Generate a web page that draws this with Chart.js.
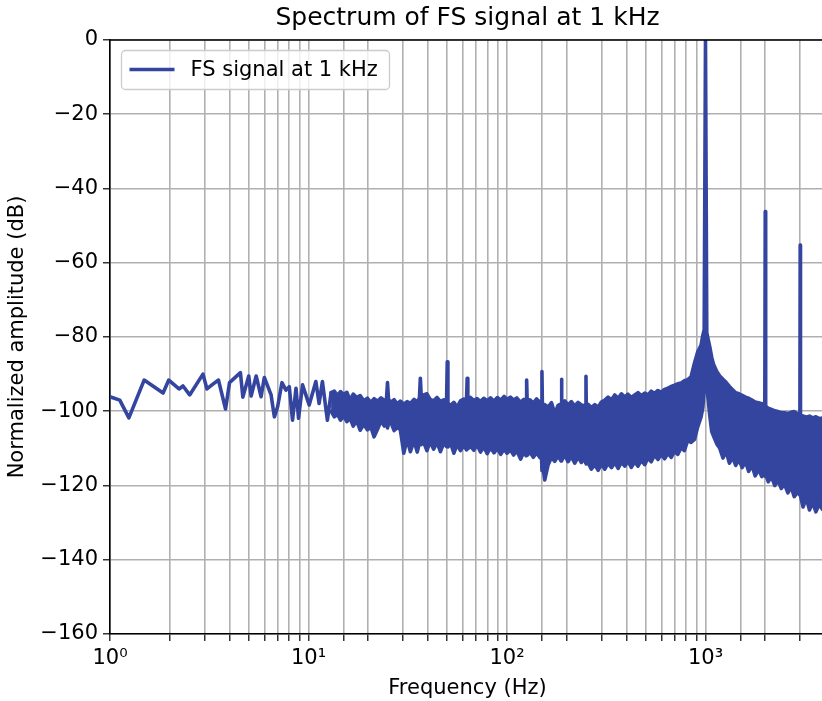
<!DOCTYPE html>
<html>
<head>
<meta charset="utf-8">
<script src="https://cdn.jsdelivr.net/npm/chart.js@4.4.0/dist/chart.umd.min.js"></script>
<style>
  html, body { margin: 0; padding: 0; background: #fff; overflow: hidden; }
  #wrap { width: 830px; height: 701px; }
</style>
</head>
<body>
<div id="wrap"><canvas id="spec" width="830" height="701"></canvas></div>
<script>
/* ── DATA ── */

// low-frequency part, a single visible trace
const lowFreq = [1.0, 1.12, 1.245, 1.486, 1.851, 1.977, 2.227, 2.332, 2.52, 2.94, 3.08, 3.30, 3.52, 3.82,
  4.0, 4.54, 4.67, 5.0, 5.14, 5.45, 5.77, 5.99, 6.48, 6.73, 6.99, 7.35, 7.70, 8.0, 8.31, 8.65, 8.91,
  9.33, 10.08, 10.89, 11.31, 11.75, 12.45, 13.0];
const lowDb = [-96.1, -97.0, -101.8, -91.6, -95.1, -91.6, -94.0, -93.2, -95.6, -90.0, -94.0, -92.7, -91.6, -99.4,
  -92.3, -89.6, -96.2, -90.5, -95.9, -90.5, -96.1, -90.9, -95.6, -101.5, -98.8, -92.3, -94.3, -93.4, -102.4, -93.8, -101.9,
  -92.9, -98.3, -92.0, -97.9, -92.0, -102.4, -95.0];

// dense noise band above 13 Hz: frequencies, upper edge, lower edge
const bandFreq = [13, 13.5, 14, 14.5, 15, 15.6, 16.2, 16.8, 17.5, 18.2, 19, 19.8, 20.6, 21.4, 22.3, 23.2, 24.1,
  24.7, 25, 25.3, 26, 27, 28, 29, 30.2, 31.4, 32.6, 34, 35.3, 36.2, 36.6, 37.0, 38, 39.5, 41, 42.7, 44.4, 46.2, 48,
  49.6, 50, 50.4, 52, 54, 56, 58.3, 60.6, 62.5, 63, 63.5, 65.5, 68, 70.7, 73.5, 76.4, 79.5, 82.6, 86, 89.4, 93, 96.7,
  100, 104, 108, 112, 117, 121.6, 124.8, 125.6, 126.4, 130.5, 135.7, 141, 146.7, 149.2, 150, 150.8, 155, 161, 167.6,
  174, 181, 187.4, 188.2, 189, 195.5, 203, 211, 219.5, 228, 237, 246.5, 249.2, 250, 250.8, 256, 266, 277, 288, 299,
  311, 323, 336, 349, 363, 377, 392, 407, 423, 440, 457, 475, 494, 513, 533, 554, 576, 599, 622, 647, 672, 698,
  725, 754, 783, 814, 846, 880, 914, 950, 970, 985, 1000, 1015, 1030, 1050, 1075, 1100, 1140, 1180, 1225, 1270,
  1320, 1370, 1420, 1475, 1530, 1590, 1650, 1715, 1780, 1850, 1920, 1990, 2000, 2010, 2070, 2150, 2235, 2320,
  2410, 2500, 2600, 2700, 2800, 2910, 2990, 3000, 3010, 3100, 3220, 3340, 3470, 3600, 3740, 3880, 4000];
const bandHiDb = [-95.0, -94.6, -95.8, -94.7, -95.5, -94.9, -97.0, -95.4, -96.3, -95.8, -97.2, -96.5, -97.6, -96.6, -97.3, -96.4, -97.1,
  -96.8, -92.3, -96.8, -97.6, -96.9, -98.0, -97.3, -98.1, -97.4, -97.9, -96.8, -97.5, -96.5, -91.1, -96.2, -95.6, -95.3, -96.8, -97.2, -96.3, -97.4, -96.9,
  -97.5, -86.7, -97.8, -98.4, -97.6, -98.9, -97.2, -96.7, -97.3, -91.1, -97.0, -96.3, -97.1, -96.6, -97.4, -96.5, -97.2, -96.4, -97.3, -96.3, -97.0, -96.0,
  -96.8, -96.2, -97.0, -96.4, -97.6, -96.8, -97.3, -91.6, -97.4, -96.9, -97.8, -96.7, -97.6, -97.8, -89.3, -98.5, -98.2, -98.9, -97.7,
  -100.6, -98.4, -98.0, -91.4, -97.9, -97.2, -98.3, -97.4, -98.6, -97.6, -98.3, -98.5, -98.4, -90.6, -98.6, -98.1, -99.0, -98.2, -98.9, -97.5,
  -97.0, -96.2, -96.9, -95.6, -96.5, -95.3, -96.2, -95.4, -96.3, -95.6, -95.0, -95.8, -95.1, -95.6, -94.6, -95.2, -94.4, -94.9, -94.1, -93.8, -93.3, -93.0,
  -92.6, -92.4, -91.8, -91.5, -90.7, -87.0, -84.0, -82.2, -79.5, -78.0, 0, -78.8, -80.5, -82.5, -85.5, -87.5, -89.3, -90.5, -91.4, -92.2,
  -93.3, -94.2, -95.0, -95.3, -95.7, -96.2, -96.5, -97.0, -97.5, -97.7, -98.0, -98.0, -46.2, -98.6, -99.2, -99.5, -99.9, -100.1,
  -100.4, -100.4, -100.6, -100.3, -100.1, -100.7, -100.5, -55.2, -101.0, -101.3, -101.6, -101.3, -101.8, -101.5, -102.0, -101.8, -102.1];
const bandLoDb = [-100.0, -101.5, -100.8, -102.4, -101.2, -102.8, -101.9, -104.0, -102.6, -105.1, -103.5, -105.0, -104.2, -106.9, -104.8, -102.6, -104.0,
  -103.1, -104.5, -103.4, -103.0, -105.2, -104.4, -104.9, -111.3, -107.5, -110.9, -107.9, -111.0, -108.6, -108.0, -109.0, -108.3, -110.6, -108.2, -110.2, -108.4, -110.9, -108.6,
  -109.5, -108.8, -109.6, -108.6, -111.3, -109.0, -110.6, -109.2, -110.4, -109.6, -110.1, -109.4, -110.5, -109.0, -111.0, -109.6, -111.4, -109.8, -111.2, -110.0, -111.6, -110.2,
  -111.3, -110.4, -111.8, -110.6, -112.9, -111.0, -112.0, -111.5, -111.9, -111.0, -112.4, -111.2, -112.5, -111.8, -116.0, -114.0, -118.5, -114.5, -112.4,
  -113.5, -112.0, -113.4, -112.6, -113.2, -111.8, -113.6, -112.2, -114.0, -112.3, -113.8, -112.6, -114.0, -113.4, -114.2, -113.8, -115.6, -114.4, -115.9, -114.2,
  -115.6, -114.0, -115.2, -113.8, -115.4, -113.7, -114.8, -113.4, -115.1, -113.6, -114.8, -113.2, -114.4, -112.6, -113.6, -111.8, -113.0, -111.6, -112.8, -111.3, -112.4, -110.8,
  -111.6, -109.8, -110.6, -107.8, -108.4, -107.6, -104.2, -101.5, -99.0, -93.5, -92.1, -93.5, -96.5, -101.0, -105.5, -106.8, -108.8, -110.0, -112.6, -110.8,
  -114.0, -112.4, -114.6, -113.0, -115.2, -113.6, -116.2, -114.6, -117.4, -115.6, -117.6, -116.8, -117.5, -117.0, -119.0, -117.6, -120.0, -118.6,
  -120.8, -119.6, -122.0, -120.4, -123.0, -121.8, -122.6, -122.0, -122.8, -125.8, -123.4, -126.6, -124.6, -127.1, -125.0, -126.4, -125.3];

// axis ticks
const xMajorTicks = [1, 10, 100, 1000];
const xMajorLabels = ['10\u2070', '10\u00b9', '10\u00b2', '10\u00b3'];
const yTickStep = 20;

/* ── STYLE ── */

const BLUE = '#3445a0';
const GRID = '#b0b0b0';
const FONT = "'DejaVu Sans', sans-serif";
const LEGEND_TEXT = 'FS signal at 1 kHz';

const pairs = (fs, ds) => fs.map((f, i) => ({ x: f, y: ds[i] }));

function lineSet(label, data, extra) {
  return Object.assign({
    label, data,
    borderColor: BLUE, borderWidth: 3.6,
    pointRadius: 0, tension: 0, fill: false,
    borderJoinStyle: 'round', borderCapStyle: 'round'
  }, extra);
}

/* ── top spine + legend box (matplotlib-like) ── */

const frameAndLegend = {
  id: 'frameAndLegend',
  afterDraw(chart) {
    const { ctx, chartArea: a } = chart;
    ctx.save();
    ctx.strokeStyle = '#000';
    ctx.lineWidth = 1.6;
    ctx.beginPath();
    ctx.moveTo(a.left, a.top);
    ctx.lineTo(a.right, a.top);
    ctx.stroke();

    const x = a.left + 11.5, y = a.top + 10.5, w = 268, h = 39;
    ctx.fillStyle = 'rgba(255,255,255,0.8)';
    ctx.strokeStyle = '#cccccc';
    ctx.lineWidth = 1.3;
    ctx.beginPath();
    ctx.roundRect(x, y, w, h, 4);
    ctx.fill();
    ctx.stroke();

    ctx.strokeStyle = BLUE;
    ctx.lineWidth = 3.6;
    ctx.beginPath();
    ctx.moveTo(x + 8, y + 19);
    ctx.lineTo(x + 53, y + 19);
    ctx.stroke();

    ctx.fillStyle = '#000';
    ctx.font = '21px ' + FONT;
    ctx.textBaseline = 'middle';
    ctx.fillText(LEGEND_TEXT, x + 69, y + 20);
    ctx.restore();
  }
};

/* ── CHART ── */

new Chart(document.getElementById('spec'), {
  type: 'line',
  data: {
    datasets: [
      lineSet(LEGEND_TEXT, pairs(lowFreq, lowDb)),
      lineSet('band upper', pairs(bandFreq, bandHiDb)),
      lineSet('band lower', pairs(bandFreq, bandLoDb), { fill: '-1', backgroundColor: BLUE })
    ]
  },
  options: {
    responsive: false,
    animation: false,
    events: [],
    layout: { padding: { left: 0, right: 2, top: 0, bottom: 0 } },
    plugins: {
      legend: { display: false },
      tooltip: { enabled: false },
      title: {
        display: true,
        text: 'Spectrum of FS signal at 1 kHz',
        fullSize: false,
        color: '#000',
        font: { family: FONT, size: 25, weight: 'normal' },
        padding: { top: 3, bottom: 7 }
      }
    },
    scales: {
      x: {
        type: 'logarithmic',
        min: 1, max: 4000,
        afterFit: s => { s.height = 67; },
        border: { display: true, color: '#000', width: 1.6 },
        grid: { color: GRID, lineWidth: 1.6, tickLength: 7, tickColor: '#000', tickWidth: 1.2 },
        ticks: {
          autoSkip: false, maxRotation: 0, color: '#000', padding: 5,
          font: { family: FONT, size: 21 },
          callback: v => {
            const i = xMajorTicks.findIndex(t => Math.abs(t - v) < 1e-6 * t);
            return i >= 0 ? xMajorLabels[i] : '';
          }
        },
        title: {
          display: true, text: 'Frequency (Hz)', color: '#000',
          font: { family: FONT, size: 21 }, padding: { top: 0, bottom: 0 }
        }
      },
      y: {
        min: -160, max: 0,
        afterFit: s => { s.width = 110; },
        border: { display: true, color: '#000', width: 1.6 },
        grid: { color: GRID, lineWidth: 1.6, tickLength: 7, tickColor: '#000', tickWidth: 1.2 },
        ticks: {
          stepSize: yTickStep, color: '#000', padding: 5,
          font: { family: FONT, size: 21 },
          callback: v => v < 0 ? '\u2212' + (-v) : String(v)
        },
        title: {
          display: true, text: 'Normalized amplitude (dB)', color: '#000',
          font: { family: FONT, size: 21 }, padding: { top: 5, bottom: 0 }
        }
      }
    }
  },
  plugins: [frameAndLegend]
});
</script>
</body>
</html>
